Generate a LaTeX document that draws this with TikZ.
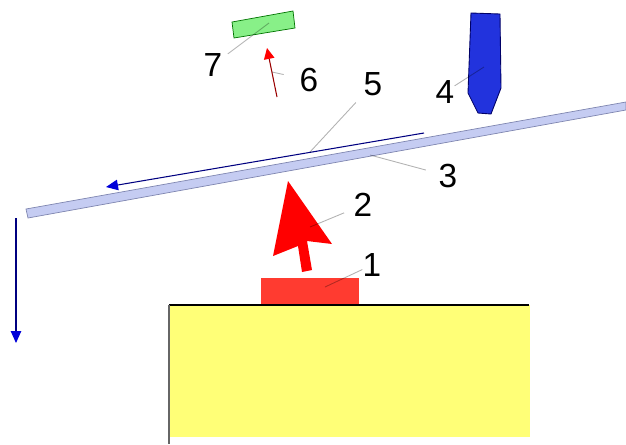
\documentclass[tikz,border=0pt]{standalone}
\usepackage{xcolor}
\definecolor{bedyellow}{HTML}{FFFF77}
\definecolor{targetred}{HTML}{FF3B30}
\definecolor{plumered}{HTML}{FF0000}
\definecolor{stripblue}{HTML}{C5CCF2}
\definecolor{stripedge}{HTML}{7F86B0}
\definecolor{nozzleblue}{HTML}{2233DD}
\definecolor{filmgreen}{HTML}{88F088}
\usepackage{fontspec}
\setmainfont{Liberation Sans}
\usepackage{tikz}
\usetikzlibrary{arrows.meta}

\begin{document}
\begin{tikzpicture}[x=0.02cm,y=-0.02cm,>=Latex]
\tikzset{
 numlabel/.style={inner sep=0pt,font=\fontsize{19}{22}\selectfont},
 leader/.style={draw=black,draw opacity=0.3,line width=0.5pt},
 bluearrow/.style={draw=blue!50!black,line width=0.6pt,-{Triangle[length=2.4mm,width=2.1mm,color=blue!85!black]}},
 redarrow/.style={draw=red!60!black,line width=0.6pt,-{Triangle[length=2.2mm,width=2.1mm,color=plumered]}}
}
\useasboundingbox (0,0) rectangle (626,444);
% bed and source
\fill[bedyellow] (169,305) rectangle (530,437);
\draw[line width=0.9pt] (169,305) -- (529,305);
\draw[black!60,line width=0.7pt] (169,305) -- (169,444);
\fill[targetred] (261,278) rectangle (359,304);
\fill[plumered] (288,181) -- (332,244) -- (307,241) -- (312,270) -- (302,272) -- (298,246) -- (273,256) -- cycle;
% strip, nozzle, film
\draw[draw=stripedge,fill=stripblue,line width=0.4pt] (26,209) -- (626,102) -- (626,110) -- (28,218) -- cycle;
\draw[draw=blue!40!black,fill=nozzleblue,line width=0.5pt] (471,13) -- (500,14) -- (501,88) -- (491,114) -- (478,113) -- (468,93) -- cycle;
\draw[draw=green!45!black,fill=filmgreen,line width=0.4pt] (232,22) -- (293,11) -- (295,28) -- (234,38) -- cycle;
% arrows
\coordinate (w1) at (424,133);
\coordinate (w2) at (106,187);
\coordinate (d1) at (16,218);
\coordinate (d2) at (16,343);
\coordinate (r1) at (277,97);
\coordinate (r2) at (267,48);
\draw[bluearrow] (w1) -- (w2);
\draw[bluearrow] (d1) -- (d2);
\draw[redarrow] (r1) -- (r2);
% labels
\node[numlabel] (n1) at (372,265) {1};
\node[numlabel] (n2) at (363,205) {2};
\node[numlabel] (n3) at (448,176) {3};
\node[numlabel] (n4) at (445,92) {4};
\node[numlabel] (n5) at (373,84) {5};
\node[numlabel] (n6) at (309,80) {6};
\node[numlabel] (n7) at (213,65) {7};
\coordinate (p1) at (325,287);
\coordinate (p2) at (310,227);
\coordinate (p3) at (370,155);
\coordinate (p4) at (484,67);
\coordinate (p5) at (310,152);
\coordinate (p6) at (272,72);
\coordinate (p7) at (269,23);
\draw[leader] (n1) -- (p1);
\draw[leader,shorten <=0.2cm] (n2) -- (p2);
\draw[leader,shorten <=0.26cm] (n3) -- (p3);
\draw[leader] (n4) -- (p4);
\draw[leader,shorten <=0.22cm] (n5) -- (p5);
\draw[leader,shorten <=0.32cm] (n6) -- (p6);
\draw[leader,shorten <=0.13cm] (n7) -- (p7);
\end{tikzpicture}
\end{document}
